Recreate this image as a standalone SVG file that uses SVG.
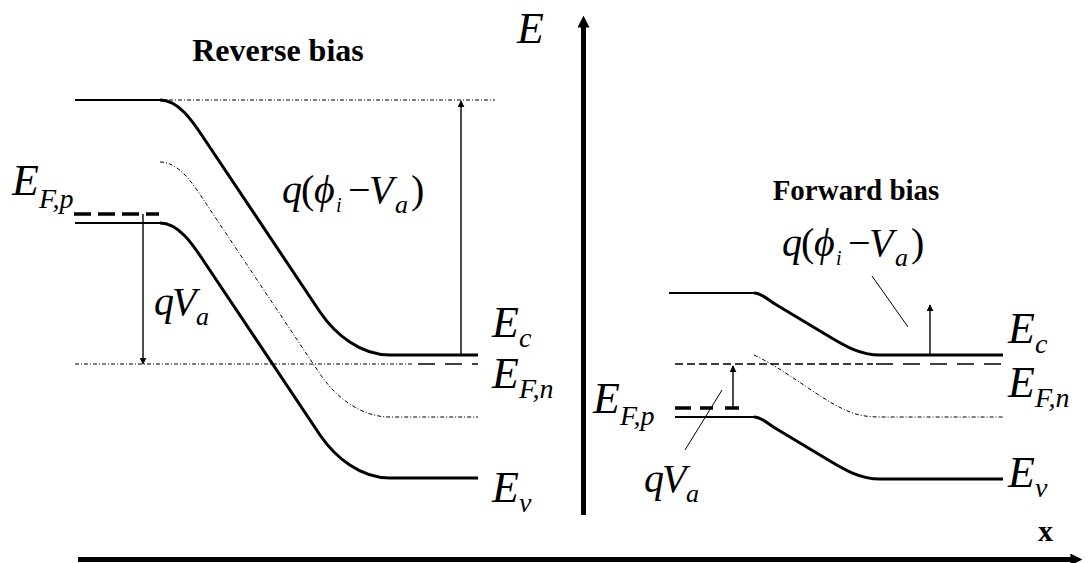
<svg xmlns="http://www.w3.org/2000/svg" width="1088" height="563" viewBox="0 0 1088 563">
<defs>
<style>
.m{font-family:"Liberation Serif","Times New Roman",serif;font-style:italic;fill:#000}
.u{font-family:"Liberation Serif","Times New Roman",serif;font-style:normal;fill:#000}
.t{font-family:"Liberation Serif","Times New Roman",serif;font-weight:bold;fill:#000}
.band{fill:none;stroke:#000;stroke-width:3}
.flat{fill:none;stroke:#000;stroke-width:2}
.fine{fill:none;stroke:#000;stroke-width:1;stroke-dasharray:4 2 1 2}
.dash{fill:none;stroke:#000;stroke-width:1.6;stroke-dasharray:17 10}
.sdash{fill:none;stroke:#000;stroke-width:1.4;stroke-dasharray:8 4}
.tdash{fill:none;stroke:#000;stroke-width:3.5}
.arr{fill:none;stroke:#000;stroke-width:1.4}
.lead{fill:none;stroke:#000;stroke-width:1}
.axis{fill:none;stroke:#000;stroke-width:5}
</style>
<marker id="ah" viewBox="0 0 10 10" refX="9" refY="5" markerWidth="7" markerHeight="7" markerUnits="userSpaceOnUse" orient="auto">
<path d="M0,0 L10,5 L0,10 z" fill="#000"/>
</marker>
<marker id="axh" viewBox="0 0 10 10" refX="3" refY="5" markerWidth="12" markerHeight="12" markerUnits="userSpaceOnUse" orient="auto">
<path d="M0,0 L10,5 L0,10 z" fill="#000"/>
</marker>
</defs>
<rect width="1088" height="563" fill="#fff"/>

<g id="axes">
<line class="axis" x1="583.5" y1="515" x2="583.5" y2="24" marker-end="url(#axh)"/>
<line class="axis" x1="78" y1="559.5" x2="1074" y2="559.5" marker-end="url(#axh)"/>
<text class="m" x="517" y="43" font-size="44">E</text>
<text class="t" x="1038" y="541" font-size="30">x</text>
</g>

<g id="reverse-bias">
<text class="t" x="278" y="61" font-size="32" text-anchor="middle">Reverse bias</text>
<g id="rev-Ec">
<line class="flat" x1="75" y1="100" x2="160" y2="100"/>
<path class="band" d="M160,100 C180,100 195,125 205,140 L320,312 C335,334 360,355 390,355 L478,355"/>
</g>
<g id="rev-Ev">
<line class="flat" x1="75" y1="223" x2="160" y2="223"/>
<path class="band" d="M160,223 C180,223 195,248 205,263 L320,435 C335,457 360,478 390,478 L478,478"/>
</g>
<g id="rev-Ei">
<path class="fine" d="M160,162 C180,162 195,187 205,202 L320,374 C335,396 360,417 390,417 L478,417"/>
</g>
<line class="fine" x1="160" y1="100" x2="495" y2="100"/>
<g id="rev-EFn">
<line class="fine" x1="75" y1="364" x2="413" y2="364"/>
<line class="dash" x1="418" y1="364" x2="478" y2="364"/>
</g>
<line class="tdash" x1="74" y1="214" x2="159" y2="214" stroke-dasharray="17 7"/>
<text class="m" x="492" y="337" font-size="44">E<tspan font-size="28" dy="10">c</tspan></text>
<text class="m" x="492" y="388" font-size="44">E<tspan font-size="28" dy="10">F,n</tspan></text>
<text class="m" x="492" y="502" font-size="44">E<tspan font-size="28" dy="10">v</tspan></text>
<text class="m" x="12" y="195" font-size="44">E<tspan font-size="28" dy="13">F,p</tspan></text>
<text font-size="40"><tspan class="m" x="282" y="203">q</tspan><tspan class="u" x="301" y="203">(</tspan><tspan class="m" x="314" y="203">ϕ</tspan><tspan class="m" x="336" y="212" font-size="20">i</tspan><tspan class="u" x="348" y="203">−</tspan><tspan class="m" x="369" y="203">V</tspan><tspan class="m" x="395" y="213" font-size="26">a</tspan><tspan class="u" x="411" y="203">)</tspan></text>
<text font-size="40"><tspan class="m" x="154" y="315">q</tspan><tspan class="m" x="172" y="315">V</tspan><tspan class="m" x="196" y="325" font-size="26">a</tspan></text>
</g>

<g id="forward-bias">
<text class="t" x="856" y="200" font-size="29" text-anchor="middle">Forward bias</text>
<g id="fwd-Ec">
<line class="flat" x1="669" y1="293" x2="754" y2="293"/>
<path class="band" d="M754,293 C762,293 768,300 775,304 L830,337 C845,346 860,355 880,355 L1003,355"/>
</g>
<g id="fwd-Ev">
<line class="flat" x1="675" y1="417" x2="754" y2="417"/>
<path class="band" d="M754,417 C762,417 768,424 775,428 L830,461 C845,470 860,479 880,479 L1003,479"/>
</g>
<path class="fine" d="M754,355 C790,372 820,400 850,412 C860,416 870,417 880,417 L1003,417"/>
<g id="fwd-EFn">
<line class="sdash" x1="675" y1="364" x2="873" y2="364"/>
<line class="dash" x1="876" y1="364" x2="1003" y2="364"/>
</g>
<g id="fwd-EFp">
<line class="tdash" x1="675" y1="408" x2="691" y2="408"/>
<line class="tdash" x1="700" y1="408" x2="713" y2="408"/>
<line class="tdash" x1="725" y1="408" x2="739" y2="408"/>
</g>
<text class="m" x="1008" y="343" font-size="44">E<tspan font-size="28" dy="10">c</tspan></text>
<text class="m" x="1008" y="397" font-size="44">E<tspan font-size="28" dy="10">F,n</tspan></text>
<text class="m" x="1008" y="487" font-size="44">E<tspan font-size="28" dy="10">v</tspan></text>
<text class="m" x="593" y="413" font-size="44">E<tspan font-size="28" dy="12">F,p</tspan></text>
<text font-size="40"><tspan class="m" x="782" y="256">q</tspan><tspan class="u" x="801" y="256">(</tspan><tspan class="m" x="814" y="256">ϕ</tspan><tspan class="m" x="836" y="265" font-size="20">i</tspan><tspan class="u" x="848" y="256">−</tspan><tspan class="m" x="869" y="256">V</tspan><tspan class="m" x="895" y="266" font-size="26">a</tspan><tspan class="u" x="911" y="256">)</tspan></text>
<text font-size="40"><tspan class="m" x="644" y="492">q</tspan><tspan class="m" x="662" y="492">V</tspan><tspan class="m" x="686" y="502" font-size="26">a</tspan></text>
</g>

<g id="connectors">
<line class="arr" x1="461" y1="355" x2="461" y2="101" marker-end="url(#ah)"/>
<line class="arr" x1="143" y1="214" x2="143" y2="364" marker-end="url(#ah)"/>
<line class="arr" x1="930" y1="355" x2="930" y2="305" marker-end="url(#ah)"/>
<line class="arr" x1="733" y1="408" x2="733" y2="366" marker-end="url(#ah)"/>
<line class="lead" x1="872" y1="276" x2="908" y2="327"/>
<line class="lead" x1="685" y1="450" x2="722" y2="390"/>
</g>
</svg>
